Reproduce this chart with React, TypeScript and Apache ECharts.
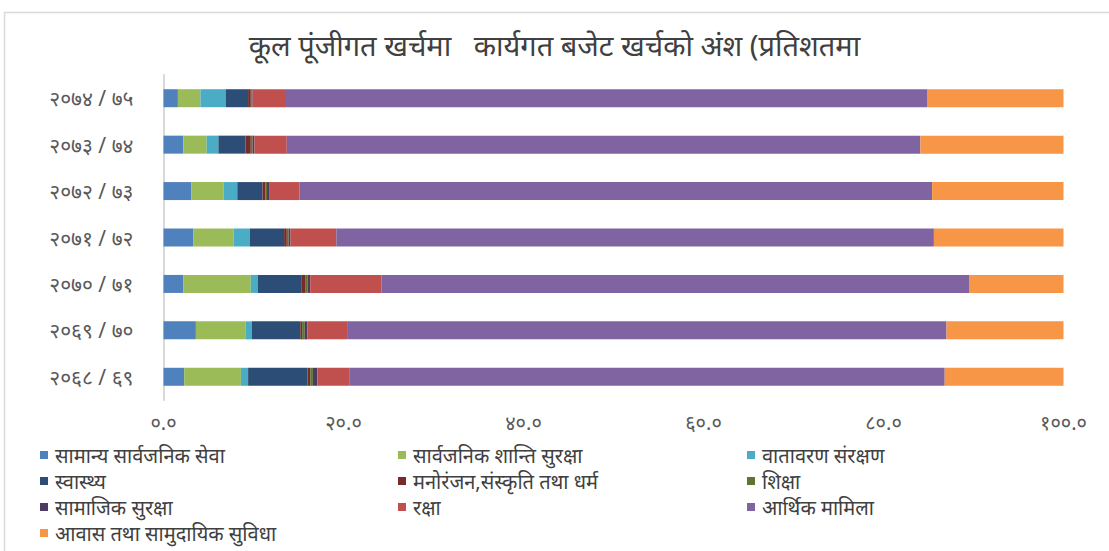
import React, { useEffect, useRef } from "react";
import * as echarts from "echarts";

const categories = ["२०६८/६९", "२०६९/७०", "२०७०/७१", "२०७१/७२", "२०७२/७३", "२०७३/७४", "२०७४/७५"];

const seriesNames = [
  "सामान्य सार्वजनिक सेवा",
  "सार्वजनिक शान्ति सुरक्षा",
  "वातावरण संरक्षण",
  "स्वास्थ्य",
  "मनोरंजन,संस्कृति तथा धर्म",
  "शिक्षा",
  "सामाजिक सुरक्षा",
  "रक्षा",
  "आर्थिक मामिला",
  "आवास तथा सामुदायिक सुविधा",
];

const colors = ["#4F81BD", "#9BBB59", "#4BACC6", "#2C4D75", "#772C2A", "#5F7530", "#4D3B62", "#C0504D", "#8064A2", "#F79646"];

// values per category (order: 2068/69 ... 2074/75)
const generalPublicService = [2.3, 3.6, 2.2, 3.3, 3.1, 2.2, 1.6];
const publicPeaceSecurity = [6.3, 5.5, 7.5, 4.5, 3.6, 2.6, 2.5];
const environmentProtection = [0.8, 0.7, 0.8, 1.8, 1.5, 1.3, 2.8];
const health = [6.6, 5.4, 4.8, 3.8, 2.8, 3.0, 2.5];
const recreationCulture = [0.3, 0.2, 0.5, 0.3, 0.3, 0.6, 0.3];
const education = [0.3, 0.3, 0.2, 0.2, 0.2, 0.2, 0.1];
const socialSecurity = [0.5, 0.3, 0.3, 0.2, 0.3, 0.2, 0.1];
const defence = [3.6, 4.4, 7.9, 5.1, 3.3, 3.6, 3.6];
const economicAffairs = [66.1, 66.6, 65.3, 66.4, 70.3, 70.4, 71.4];
const housingCommunity = [13.2, 13.0, 10.5, 14.4, 14.6, 15.9, 15.1];

const xTicks = [0, 20, 40, 60, 80, 100];

const devDigits = "०१२३४५६७८९";
const toDev = (s: string) => s.replace(/[0-9]/g, (d) => devDigits[Number(d)]);

const FONT = "'Noto Sans', sans-serif";

export default function App() {
  const ref = useRef<HTMLDivElement>(null);
  useEffect(() => {
    if (!ref.current) return;
    const chart = echarts.init(ref.current, undefined, { renderer: "svg" });
    const allData = [
      generalPublicService,
      publicPeaceSecurity,
      environmentProtection,
      health,
      recreationCulture,
      education,
      socialSecurity,
      defence,
      economicAffairs,
      housingCommunity,
    ];
    const legendCol = (idx: number[], left: number) => ({
      orient: "vertical" as const,
      left,
      top: 444,
      height: 106,
      padding: 0,
      itemWidth: 8,
      itemHeight: 8,
      itemGap: 4,
      icon: "rect",
      data: idx.map((i) => seriesNames[i]),
      textStyle: {
        fontFamily: FONT,
        fontSize: 20,
        lineHeight: 22,
        color: "#404040",
        padding: [0, 0, 0, 2],
      },
    });
    chart.setOption({
      animation: false,
      color: colors,
      title: {
        text: "कूल पूंजीगत खर्चमा   कार्यगत बजेट खर्चको अंश (प्रतिशतमा",
        left: "center",
        top: 25,
        textStyle: { fontFamily: FONT, fontSize: 29, fontWeight: "normal", color: "#404040" },
      },
      graphic: [
        {
          type: "rect",
          shape: { x: 4.5, y: 12.5, width: 1120, height: 560 },
          style: { fill: "none", stroke: "#d9d9d9", lineWidth: 1.5 },
          silent: true,
        },
      ],
      legend: [legendCol([0, 3, 6, 9], 40), legendCol([1, 4, 7], 398), legendCol([2, 5, 8], 747)],
      grid: { left: 163.5, right: 45.5, top: 75, height: 325 },
      xAxis: {
        type: "value",
        min: 0,
        max: 100,
        interval: 20,
        axisLine: { show: false },
        axisTick: { show: false },
        splitLine: { show: false },
        axisLabel: {
          margin: 12,
          fontFamily: FONT,
          fontSize: 20,
          color: "#595959",
          formatter: (v: number) => (xTicks.includes(v) ? toDev(v.toFixed(1)) : ""),
        },
      },
      yAxis: {
        type: "category",
        data: categories,
        axisLine: { show: true, lineStyle: { color: "#d9d9d9", width: 2 } },
        axisTick: { show: false },
        axisLabel: {
          margin: 30,
          fontFamily: FONT,
          fontSize: 21,
          color: "#595959",
          formatter: (v: string) => v.replace("/", " / "),
        },
      },
      series: allData.map((d, i) => ({
        name: seriesNames[i],
        type: "bar",
        stack: "total",
        barWidth: 18,
        data: d,
        itemStyle: { color: colors[i] },
      })),
    });
    return () => chart.dispose();
  }, []);
  return (
    <div
      ref={ref}
      style={{ position: "fixed", left: 0, top: 0, width: 1109, height: 551, background: "#fff" }}
    />
  );
}
